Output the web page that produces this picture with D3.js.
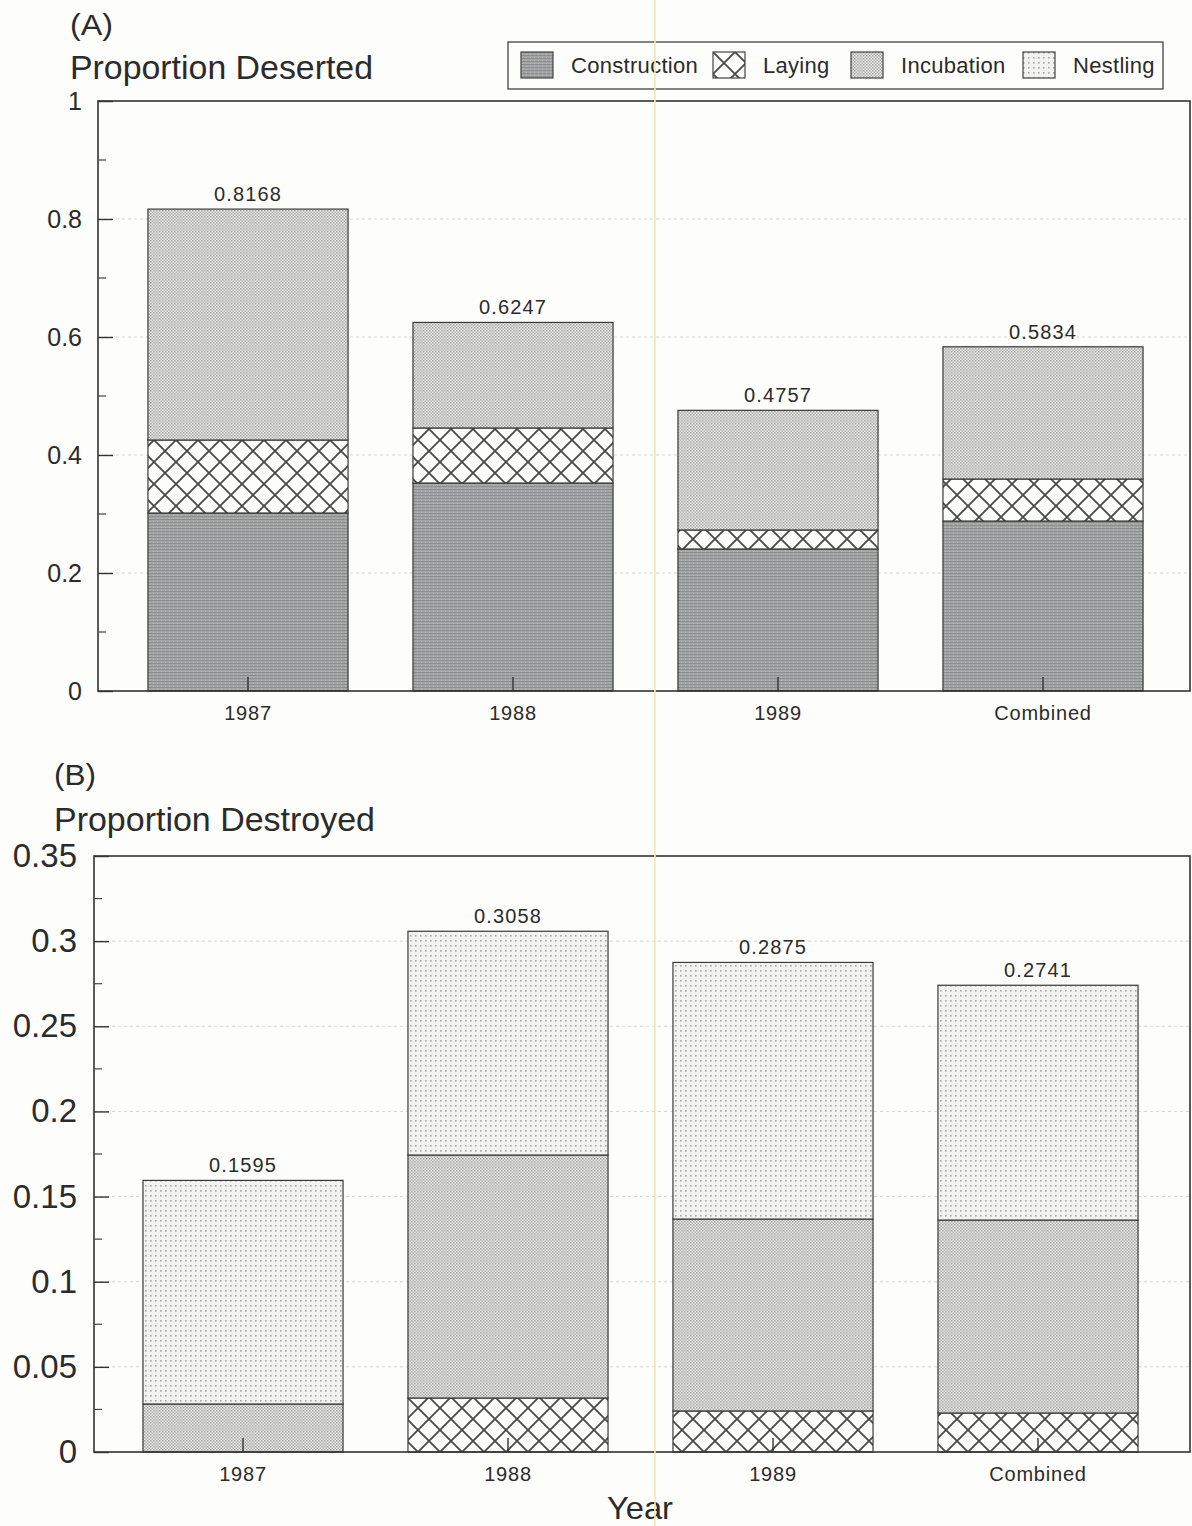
<!DOCTYPE html>
<html>
<head>
<meta charset="utf-8">
<script src="https://cdn.jsdelivr.net/npm/d3@7"></script>
<style>
  html, body { margin: 0; padding: 0; background: #fdfdfb; }
  svg { display: block; font-family: "Liberation Sans", Arial, Helvetica, sans-serif; }
</style>
</head>
<body>
<svg id="chart" width="1192" height="1526"></svg>
<script>
// Nest failure by stage: proportion deserted (A) and destroyed (B)
const categories = ["1987", "1988", "1989", "Combined"];
const stages = ["Construction", "Laying", "Incubation", "Nestling"];

// Panel A – deserted, by stage
const desertedConstruction = [0.3017, 0.3525, 0.2407, 0.2881];
const desertedLaying       = [0.1237, 0.0933, 0.0322, 0.0712];
const desertedIncubation   = [0.3914, 0.1789, 0.2028, 0.2241];
const desertedTotals       = [0.8168, 0.6247, 0.4757, 0.5834];

// Panel B – destroyed, by stage
const destroyedLaying     = [0.0000, 0.0317, 0.0241, 0.0229];
const destroyedIncubation = [0.0282, 0.1427, 0.1127, 0.1133];
const destroyedNestling   = [0.1313, 0.1314, 0.1507, 0.1379];
const destroyedTotals     = [0.1595, 0.3058, 0.2875, 0.2741];

// Axis ticks
const ticksA = [0, 0.2, 0.4, 0.6, 0.8, 1];
const tickLabelsA = ["0", "0.2", "0.4", "0.6", "0.8", "1"];
const minorTicksA = [0.1, 0.3, 0.5, 0.7, 0.9];
const ticksB = [0, 0.05, 0.1, 0.15, 0.2, 0.25, 0.3, 0.35];
const tickLabelsB = ["0", "0.05", "0.1", "0.15", "0.2", "0.25", "0.3", "0.35"];
const minorTicksB = [0.025, 0.075, 0.125, 0.175, 0.225, 0.275, 0.325];

const svg = d3.select("#chart");
const ink = "#2b2b2b";
const font = "'Liberation Sans', Arial, Helvetica, sans-serif";

// ---- fill patterns for the four stages ----
const defs = svg.append("defs");

// Construction: dark gray with fine horizontal raster
const pc = defs.append("pattern").attr("id", "pat-Construction")
  .attr("patternUnits", "userSpaceOnUse").attr("width", 4).attr("height", 3);
pc.append("rect").attr("width", 4).attr("height", 3).attr("fill", "#a4a5a5");
pc.append("rect").attr("y", 0).attr("width", 4).attr("height", 1).attr("fill", "#8b8c8d");
pc.append("rect").attr("x", 1).attr("y", 2).attr("width", 1).attr("height", 1).attr("fill", "#bababa");

// Laying: diagonal cross-hatch
const pl = defs.append("pattern").attr("id", "pat-Laying")
  .attr("patternUnits", "userSpaceOnUse").attr("width", 22).attr("height", 22);
pl.append("rect").attr("width", 22).attr("height", 22).attr("fill", "#fdfdfb");
pl.append("path").attr("d", "M0,0L22,22M22,0L0,22M-11,11L11,33M11,-11L33,11M-11,11L11,-11M11,33L33,11")
  .attr("stroke", "#4a4a4a").attr("stroke-width", 1.8);

// Incubation: dense dot screen
const pi = defs.append("pattern").attr("id", "pat-Incubation")
  .attr("patternUnits", "userSpaceOnUse").attr("width", 3).attr("height", 3);
pi.append("rect").attr("width", 3).attr("height", 3).attr("fill", "#e6e6e4");
pi.append("rect").attr("width", 1.5).attr("height", 1.5).attr("fill", "#a9a9a9");
pi.append("rect").attr("x", 1.5).attr("y", 1.5).attr("width", 1.5).attr("height", 1.5).attr("fill", "#b4b4b4");

// Nestling: sparse dot screen
const pn = defs.append("pattern").attr("id", "pat-Nestling")
  .attr("patternUnits", "userSpaceOnUse").attr("width", 5).attr("height", 5);
pn.append("rect").attr("width", 5).attr("height", 5).attr("fill", "#f2f2f0");
pn.append("rect").attr("width", 1.6).attr("height", 1.6).attr("fill", "#a8a8a8");

// ---- one stacked-bar panel ----
function panel(opts) {
  const { left, right, top, bottom, yMax, ticks, tickLabels, minor, bandRange,
          keys, columns, totals, labelSize, labelRight } = opts;

  const rows = categories.map((c, i) => {
    const r = { category: c };
    keys.forEach((k, j) => { r[k] = columns[j][i]; });
    return r;
  });

  const x = d3.scaleBand().domain(categories).range(bandRange)
    .paddingInner(0.245).paddingOuter(0.1225);
  const y = d3.scaleLinear().domain([0, yMax]).range([bottom, top]);

  const g = svg.append("g");

  // faint gridlines at the labelled ticks
  g.selectAll(".grid").data(ticks.slice(1, -1)).join("line")
    .attr("x1", left).attr("x2", right)
    .attr("y1", d => y(d)).attr("y2", d => y(d))
    .attr("stroke", "#d6d6d6").attr("stroke-width", 1).attr("stroke-dasharray", "3,3");

  // stacked bars
  const series = d3.stack().keys(keys)(rows);
  series.forEach(s => {
    g.append("g").selectAll("rect").data(s.filter(d => d[1] - d[0] > 0)).join("rect")
      .attr("x", d => x(d.data.category))
      .attr("width", x.bandwidth())
      .attr("y", d => y(d[1]))
      .attr("height", d => y(d[0]) - y(d[1]))
      .attr("fill", `url(#pat-${s.key})`)
      .attr("stroke", "#3a3a3a").attr("stroke-width", 1.2);
  });

  // value labels above each bar
  g.selectAll(".val").data(categories).join("text")
    .attr("x", d => x(d) + x.bandwidth() / 2)
    .attr("y", (d, i) => y(totals[i]) - 8)
    .attr("text-anchor", "middle")
    .attr("font-size", 20).attr("letter-spacing", 1.1).attr("fill", ink)
    .text((d, i) => totals[i].toFixed(4));

  // frame
  g.append("rect").attr("x", left).attr("y", top)
    .attr("width", right - left).attr("height", bottom - top)
    .attr("fill", "none").attr("stroke", "#333").attr("stroke-width", 1.6);

  // y axis: major and minor ticks point inward
  const yAxis = d3.axisLeft(y).tickValues(ticks)
    .tickFormat((d, i) => tickLabels[i]).tickSizeInner(-15).tickSizeOuter(0).tickPadding(16);
  const ya = g.append("g").attr("transform", `translate(${left},0)`).call(yAxis);
  ya.select(".domain").remove();
  ya.selectAll(".tick line").attr("stroke", "#333").attr("stroke-width", 1.4);
  ya.selectAll(".tick text").attr("font-size", labelSize).attr("fill", ink)
    .attr("x", labelRight - left).attr("font-family", font);
  g.append("g").selectAll("line").data(minor).join("line")
    .attr("x1", left).attr("x2", left + 8)
    .attr("y1", d => y(d)).attr("y2", d => y(d))
    .attr("stroke", "#444").attr("stroke-width", 1.2);

  // x axis: ticks at bar centres pointing up
  const xAxis = d3.axisBottom(x).tickSizeInner(-14).tickSizeOuter(0).tickPadding(15);
  const xa = g.append("g").attr("transform", `translate(0,${bottom})`).call(xAxis);
  xa.select(".domain").remove();
  xa.selectAll(".tick line").attr("stroke", "#333").attr("stroke-width", 1.4);
  xa.selectAll(".tick text").attr("font-size", 20).attr("letter-spacing", 0.8)
    .attr("fill", ink).attr("font-family", font);
}

// Panel A
panel({
  left: 98, right: 1190, top: 101, bottom: 691, yMax: 1,
  ticks: ticksA, tickLabels: tickLabelsA, minor: minorTicksA,
  bandRange: [115.5, 1175.5],
  keys: ["Construction", "Laying", "Incubation"],
  columns: [desertedConstruction, desertedLaying, desertedIncubation],
  totals: desertedTotals, labelSize: 25, labelRight: 82
});

// Panel B
panel({
  left: 94, right: 1190, top: 856, bottom: 1452, yMax: 0.35,
  ticks: ticksB, tickLabels: tickLabelsB, minor: minorTicksB,
  bandRange: [110.5, 1170.5],
  keys: ["Laying", "Incubation", "Nestling"],
  columns: [destroyedLaying, destroyedIncubation, destroyedNestling],
  totals: destroyedTotals, labelSize: 33, labelRight: 77
});

// Panel titles
const titles = [
  { t: "(A)", x: 70, y: 35, s: 29, w: 43 },
  { t: "Proportion Deserted", x: 70, y: 79, s: 33, w: 303 },
  { t: "(B)", x: 54, y: 785, s: 29, w: 42 },
  { t: "Proportion Destroyed", x: 54, y: 831, s: 33, w: 321 }
];
svg.append("g").selectAll("text").data(titles).join("text")
  .attr("x", d => d.x).attr("y", d => d.y).attr("font-size", d => d.s)
  .attr("textLength", d => d.w).attr("lengthAdjust", "spacingAndGlyphs")
  .attr("fill", ink).text(d => d.t);

// Axis title
svg.append("text").attr("x", 640).attr("y", 1519).attr("text-anchor", "middle")
  .attr("font-size", 32).attr("textLength", 66).attr("lengthAdjust", "spacingAndGlyphs")
  .attr("fill", ink).text("Year");

// Legend
const legend = svg.append("g");
legend.append("rect").attr("x", 508).attr("y", 42).attr("width", 655).attr("height", 47)
  .attr("fill", "#fdfdfb").attr("stroke", "#444").attr("stroke-width", 1.3);
const legendX = d3.scaleOrdinal().domain(stages).range([521, 713, 851, 1023]);
const lg = legend.selectAll("g").data(stages).join("g")
  .attr("transform", d => `translate(${legendX(d)},52)`);
lg.append("rect").attr("width", 32).attr("height", 26)
  .attr("fill", d => `url(#pat-${d})`).attr("stroke", "#444").attr("stroke-width", 1.2);
lg.append("text").attr("x", 50).attr("y", 21).attr("font-size", 22).attr("letter-spacing", 0.3)
  .attr("fill", ink).text(d => d);

// pale yellow streak running down the page
svg.append("line").attr("x1", 655).attr("x2", 655).attr("y1", 0).attr("y2", 1526)
  .attr("stroke", "#f6e9a8").attr("stroke-width", 2).attr("opacity", 0.8);
</script>
</body>
</html>
